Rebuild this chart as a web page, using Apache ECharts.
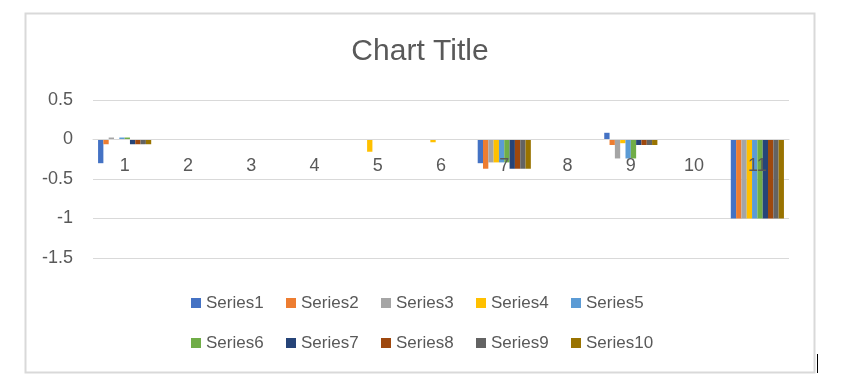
<!DOCTYPE html>
<html>
<head>
<meta charset="utf-8">
<script src="https://cdn.jsdelivr.net/npm/echarts@6/dist/echarts.min.js"></script>
<style>html,body{margin:0;padding:0;background:#fff;}#c{width:864px;height:387px;}</style>
</head>
<body>
<div id="c"></div>
<script>
const categories = ['1','2','3','4','5','6','7','8','9','10','11'];
const seriesNames = ['Series1','Series2','Series3','Series4','Series5','Series6','Series7','Series8','Series9','Series10'];
const series1  = [-0.30, 0, 0, 0, 0, 0, -0.30, 0, 0.085, 0, -1];
const series2  = [-0.06, 0, 0, 0, 0, 0, -0.37, 0, -0.07, 0, -1];
const series3  = [0.025, 0, 0, 0, 0, 0, -0.29, 0, -0.24, 0, -1];
const series4  = [0, 0, 0, 0, -0.155, -0.035, -0.29, 0, -0.047, 0, -1];
const series5  = [0.025, 0, 0, 0, 0, 0, -0.29, 0, -0.24, 0, -1];
const series6  = [0.025, 0, 0, 0, 0, 0, -0.29, 0, -0.24, 0, -1];
const series7  = [-0.06, 0, 0, 0, 0, 0, -0.37, 0, -0.07, 0, -1];
const series8  = [-0.06, 0, 0, 0, 0, 0, -0.37, 0, -0.07, 0, -1];
const series9  = [-0.06, 0, 0, 0, 0, 0, -0.37, 0, -0.07, 0, -1];
const series10 = [-0.06, 0, 0, 0, 0, 0, -0.37, 0, -0.07, 0, -1];
const yTicks = [-1.5, -1, -0.5, 0, 0.5];

const allValues = [series1, series2, series3, series4, series5, series6, series7, series8, series9, series10];
const colors = ['#4472C4','#ED7D31','#A5A5A5','#FFC000','#5B9BD5','#70AD47','#264478','#9E480E','#636363','#997300'];
const font = 'Liberation Sans, Arial, sans-serif';
const txt = '#595959';

const gridTop = 100, gridHeight = 158;
const yMin = yTicks[0], yMax = yTicks[yTicks.length - 1];
// position of the category axis at value 0 (computed from the y scale)
const zeroOffset = -gridHeight * (0 - yMin) / (yMax - yMin);

const chart = echarts.init(document.getElementById('c'), null, {renderer: 'canvas'});
const legendBase = {
  left: 191, padding: 0, itemWidth: 10, itemHeight: 10, itemGap: 10, icon: 'rect', orient: 'horizontal',
  textStyle: {fontFamily: font, fontSize: 17, color: txt, width: 70, lineHeight: 20},
  selectedMode: false
};
chart.setOption({
  animation: false,
  color: colors,
  title: {
    text: 'Chart Title', left: 415, top: 32, textAlign: 'center',
    textStyle: {fontFamily: font, fontSize: 30, fontWeight: 'normal', color: txt}
  },
  legend: [
    Object.assign({}, legendBase, {top: 293, data: seriesNames.slice(0, 5)}),
    Object.assign({}, legendBase, {top: 333, data: seriesNames.slice(5)})
  ],
  grid: {left: 93, top: gridTop, width: 696, height: gridHeight, containLabel: false},
  xAxis: {
    type: 'category', data: categories, position: 'bottom', offset: zeroOffset, z: 10,
    axisLine: {onZero: false, lineStyle: {color: '#d9d9d9', width: 1}},
    axisTick: {show: false},
    axisLabel: {fontFamily: font, fontSize: 18, color: txt, margin: 18},
    splitLine: {show: false}
  },
  yAxis: {
    type: 'value', min: yMin, max: yMax, interval: 0.5,
    axisLine: {show: false}, axisTick: {show: false},
    axisLabel: {fontFamily: font, fontSize: 18, color: txt, margin: 20},
    splitLine: {lineStyle: {color: '#d9d9d9', width: 1}}
  },
  graphic: [
    {type: 'rect', shape: {x: 25.5, y: 13.5, width: 789, height: 359}, style: {fill: 'none', stroke: '#d9d9d9', lineWidth: 2}, silent: true},
    {type: 'line', shape: {x1: 817.5, y1: 354, x2: 817.5, y2: 373}, style: {stroke: '#000', lineWidth: 1}, silent: true}
  ],
  series: seriesNames.map((n, i) => ({
    name: n, type: 'bar', data: allValues[i],
    barGap: '0%', barCategoryGap: '16%'
  }))
});
</script>
</body>
</html>
